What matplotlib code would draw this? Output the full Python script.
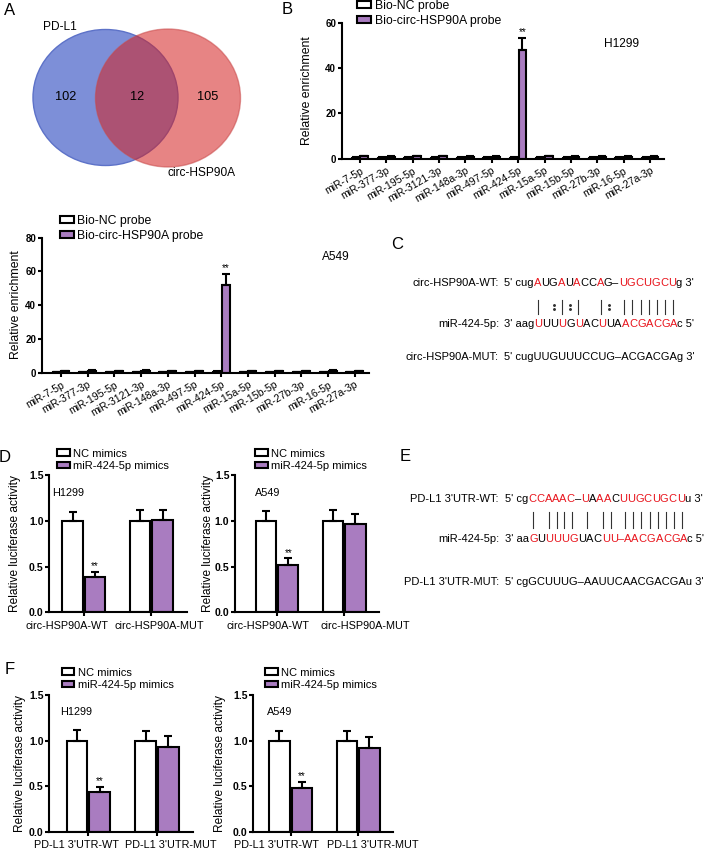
import numpy as np
import matplotlib.pyplot as plt
from matplotlib.patches import Ellipse, Patch
from matplotlib.ticker import FormatStrFormatter
from matplotlib.transforms import ScaledTranslation

W, H = 708, 856

plt.rcParams["font.family"] = ["Liberation Sans", "DejaVu Sans"]

PURPLE = "#a97cc0"
SEQ_RED = "#e8141c"

# ---------------- data ----------------
VENN_SETS = ["PD-L1", "circ-HSP90A"]
VENN_COUNTS = [102, 12, 105]

MIRNAS = ["miR-7-5p", "miR-377-3p", "miR-195-5p", "miR-3121-3p", "miR-148a-3p",
          "miR-497-5p", "miR-424-5p", "miR-15a-5p", "miR-15b-5p", "miR-27b-3p",
          "miR-16-5p", "miR-27a-3p"]
PULLDOWN_LEGEND = ["Bio-NC probe", "Bio-circ-HSP90A probe"]

H1299_NC = [0.5, 0.4, 0.4, 0.5, 0.4, 0.4, 0.4, 0.5, 0.4, 0.5, 0.4, 0.4]
H1299_NC_ERR = [0.2, 0.2, 0.2, 0.2, 0.2, 0.2, 0.2, 0.2, 0.2, 0.2, 0.2, 0.2]
H1299_PROBE = [1.0, 0.9, 1.1, 1.0, 0.9, 0.8, 47.9, 1.0, 0.9, 0.8, 0.9, 0.9]
H1299_PROBE_ERR = [0.3, 0.3, 0.3, 0.3, 0.3, 0.3, 5.5, 0.3, 0.3, 0.3, 0.3, 0.3]
H1299_SIG = ["", "", "", "", "", "", "**", "", "", "", "", ""]

A549_NC = [0.5, 0.5, 0.4, 0.5, 0.5, 0.4, 0.6, 0.5, 0.4, 0.5, 0.4, 0.4]
A549_NC_ERR = [0.2, 0.2, 0.2, 0.2, 0.2, 0.2, 0.2, 0.2, 0.2, 0.2, 0.2, 0.2]
A549_PROBE = [1.0, 1.1, 1.0, 1.1, 1.0, 0.9, 52.0, 1.0, 1.0, 1.0, 1.1, 0.8]
A549_PROBE_ERR = [0.3, 0.3, 0.3, 0.3, 0.3, 0.3, 6.4, 0.3, 0.3, 0.3, 0.3, 0.3]
A549_SIG = ["", "", "", "", "", "", "**", "", "", "", "", ""]

LUC_LEGEND = ["NC mimics", "miR-424-5p mimics"]

D_GROUPS = ["circ-HSP90A-WT", "circ-HSP90A-MUT"]
D_H1299_NC = [1.0, 1.0]
D_H1299_NC_ERR = [0.10, 0.12]
D_H1299_MIM = [0.39, 1.01]
D_H1299_MIM_ERR = [0.05, 0.11]
D_A549_NC = [1.0, 1.0]
D_A549_NC_ERR = [0.11, 0.12]
D_A549_MIM = [0.52, 0.97]
D_A549_MIM_ERR = [0.07, 0.10]

F_GROUPS = ["PD-L1 3'UTR-WT", "PD-L1 3'UTR-MUT"]
F_H1299_NC = [1.0, 1.0]
F_H1299_NC_ERR = [0.12, 0.11]
F_H1299_MIM = [0.44, 0.93]
F_H1299_MIM_ERR = [0.055, 0.12]
F_A549_NC = [1.0, 1.0]
F_A549_NC_ERR = [0.11, 0.11]
F_A549_MIM = [0.48, 0.92]
F_A549_MIM_ERR = [0.07, 0.12]
LUC_SIG = ["**", ""]

# sequences: (label, prefix, core, red mask, suffix)
C_ROWS = [
    ("circ-HSP90A-WT:", "5' cug", "AUGAUACCAG–UGCUGCU", "R..R.R..R..RRRRRRR", "g 3'"),
    ("miR-424-5p:", "3' aag", "UUUUGUACUUAACGACGA", "R..R.R..R..RRRRRRR", "c 5'"),
    ("circ-HSP90A-MUT:", "5' cugUUGUUUCCUG–ACGACGAg 3'", "", "", ""),
]
C_PAIRS = "| :|:|  |: |||||||"

E_ROWS = [
    ("PD-L1 3'UTR-WT:", "5' cg", "CCAAAC–UAAACUUGCUGCU", "RRRRRR.R.RR.RRRRRRRR", "u 3'"),
    ("miR-424-5p:", "3' aa", "GUUUUGUACUU–AACGACGA", "R.RRRR...RRRRRRRRRRR", "c 5'"),
    ("PD-L1 3'UTR-MUT:", "5' cgGCUUUG–AAUUCAACGACGAu 3'", "", "", ""),
]
E_PAIRS = "| |||| | || ||||||||"

# ---------------- figure ----------------
fig = plt.figure(figsize=(W / 100, H / 100), dpi=100)
bg = fig.add_axes([0, 0, 1, 1])
bg.set_xlim(0, W)
bg.set_ylim(H, 0)
bg.axis("off")


def px_rect(left, top, right, bottom):
    return [left / W, 1 - bottom / H, (right - left) / W, (bottom - top) / H]


def style_axes(ax, tick_fs):
    for side in ("top", "right"):
        ax.spines[side].set_visible(False)
    for side in ("left", "bottom"):
        ax.spines[side].set_linewidth(1.5)
    ax.tick_params(direction="out", length=3, width=1.5)
    ax.tick_params(axis="y", pad=1, labelsize=tick_fs)
    for lab in ax.get_yticklabels():
        lab.set_fontweight("bold")
    ax.set_facecolor("none")


def grouped_bars(ax, nc, nc_err, trt, trt_err, sig, off=0.165, width=0.3):
    x = np.arange(len(nc))
    ax.bar(x - off, nc, width=width, color="white", edgecolor="black",
           linewidth=1.5, zorder=2)
    ax.bar(x + off, trt, width=width, color=PURPLE, edgecolor="black",
           linewidth=1.5, zorder=2)
    for xs, ys, es in ((x - off, nc, nc_err), (x + off, trt, trt_err)):
        ax.errorbar(xs, ys, yerr=[np.zeros(len(ys)), es], fmt="none",
                    ecolor="black", elinewidth=1.5, capsize=3, capthick=1.5,
                    zorder=3)
    for xi, yi, ei, s in zip(x + off, trt, trt_err, sig):
        if s:
            ax.annotate(s, (xi, yi + ei), xytext=(0, 0.5),
                        textcoords="offset points", ha="center", va="bottom",
                        fontsize=7)
    return x


def add_legend(ax, labels, left, top, fs):
    handles = [Patch(facecolor="white", edgecolor="black", linewidth=1.5),
               Patch(facecolor=PURPLE, edgecolor="black", linewidth=1.5)]
    ax.legend(handles, labels, loc="upper left",
              bbox_to_anchor=(left / W, 1 - top / H),
              bbox_transform=fig.transFigure, frameon=False, fontsize=fs,
              borderpad=0, borderaxespad=0, handlelength=1.15,
              handleheight=0.5, handletextpad=0.3, labelspacing=0.22)


def ylabel_at(ax, text, cx, fs):
    ax.set_ylabel(text, fontsize=fs)
    ax.yaxis.label.set_verticalalignment("center")
    l, b, w, h = ax.get_position().bounds
    ax.yaxis.set_label_coords((cx / W - l) / w, 0.5)


# ---- A: Venn ----
bg.add_patch(Ellipse((105.5, 97.5), 145, 136, facecolor="#7d8fd8",
                     edgecolor="#5d72c8", linewidth=1.0))
bg.add_patch(Ellipse((168, 98), 145, 138, facecolor="#d42020", alpha=0.55,
                     edgecolor="#c84848", linewidth=1.0))
bg.text(60, 27, VENN_SETS[0], ha="center", va="center", fontsize=8.6)
bg.text(202, 173, VENN_SETS[1], ha="center", va="center", fontsize=8.6)
for cx, n in zip((66, 137, 208), VENN_COUNTS):
    bg.text(cx, 97, str(n), ha="center", va="center", fontsize=9.2)


# ---- B: pull-down ----
def pulldown_panel(rect, xlim, ymax, nc, nc_err, probe, probe_err, sig,
                   ylab_cx, leg_xy, cell, cell_xy):
    ax = fig.add_axes(rect)
    x = grouped_bars(ax, nc, nc_err, probe, probe_err, sig)
    ax.set_xlim(*xlim)
    ax.set_ylim(0, ymax)
    ax.set_yticks(np.arange(0, ymax + 1, 20))
    ax.set_xticks(x)
    ax.set_xticklabels(MIRNAS, rotation=30, ha="right", rotation_mode="anchor",
                       fontsize=7.5)
    style_axes(ax, 7)
    ax.tick_params(axis="x", pad=2)
    ylabel_at(ax, "Relative enrichment", ylab_cx, 8.8)
    add_legend(ax, PULLDOWN_LEGEND, leg_xy[0], leg_xy[1], 8.8)
    bg.text(cell_xy[0], cell_xy[1], cell, ha="center", va="center", fontsize=8.6)
    return ax


pulldown_panel(px_rect(341.7, 22.7, 664, 158.7), (-0.69, 11.53), 60,
               H1299_NC, H1299_NC_ERR, H1299_PROBE, H1299_PROBE_ERR, H1299_SIG,
               306.7, (357, 0), "H1299", (621.5, 44))
pulldown_panel(px_rect(41.7, 237.5, 369, 372.7), (-0.72, 11.53), 80,
               A549_NC, A549_NC_ERR, A549_PROBE, A549_PROBE_ERR, A549_SIG,
               15.8, (59.5, 215), "A549", (336, 256.7))


# ---- D / F: luciferase ----
def luc_panel(rect, xlim, nc, nc_err, mim, mim_err, groups, label_shift,
              ylab_cx, leg_xy, cell, cell_xy):
    ax = fig.add_axes(rect)
    x = grouped_bars(ax, nc, nc_err, mim, mim_err, LUC_SIG)
    ax.set_xlim(*xlim)
    ax.set_ylim(0, 1.5)
    ax.set_yticks([0.0, 0.5, 1.0, 1.5])
    ax.yaxis.set_major_formatter(FormatStrFormatter("%.1f"))
    ax.set_xticks(x)
    ax.set_xticklabels(groups, fontsize=7.8)
    style_axes(ax, 7.6)
    ax.tick_params(axis="x", pad=3)
    # the group labels sit spread apart from the ticks in the original
    for lab, dx in zip(ax.get_xticklabels(), label_shift):
        lab.set_transform(lab.get_transform()
                          + ScaledTranslation(dx / 100, 0, fig.dpi_scale_trans))
    ylabel_at(ax, "Relative luciferase activity", ylab_cx, 8.6)
    add_legend(ax, LUC_LEGEND, leg_xy[0], leg_xy[1], 8.0)
    bg.text(cell_xy[0], cell_xy[1], cell, ha="center", va="center", fontsize=7.8)
    return ax


luc_panel(px_rect(49.3, 475, 186.6, 612.3), (-0.51, 1.52), D_H1299_NC,
          D_H1299_NC_ERR, D_H1299_MIM, D_H1299_MIM_ERR, D_GROUPS, (-17, 8), 15,
          (57, 448.6), "H1299", (68.5, 492.7))
luc_panel(px_rect(235, 475, 379.3, 612.3), (-0.63, 1.52), D_A549_NC,
          D_A549_NC_ERR, D_A549_MIM, D_A549_MIM_ERR, D_GROUPS, (-9, 21), 208.5,
          (255, 448.6), "A549", (268, 492.7))
luc_panel(px_rect(49.3, 695, 192.7, 831.7), (-0.57, 1.52), F_H1299_NC,
          F_H1299_NC_ERR, F_H1299_MIM, F_H1299_MIM_ERR, F_GROUPS, (-12, 14), 20,
          (61.7, 667.6), "H1299", (76.5, 711.7))
luc_panel(px_rect(253.3, 695, 392.7, 831.7), (-0.55, 1.51), F_A549_NC,
          F_A549_NC_ERR, F_A549_MIM, F_A549_MIM_ERR, F_GROUPS, (-14, 15), 220,
          (265, 667.6), "A549", (280, 711.7))


# ---- C / E: sequence alignments ----
SEQ_FS = 8.0


def seq_row(y, row, label_x, seq_x):
    label, prefix, core, mask, suffix = row
    bg.text(label_x, y, label, ha="right", va="center", fontsize=SEQ_FS)
    prev = bg.text(seq_x, y, prefix, ha="left", va="center", fontsize=SEQ_FS)
    chars = []
    for ch, m in zip(core, mask):
        prev = bg.annotate(ch, xy=(1, 0), xycoords=prev, ha="left", va="bottom",
                           fontsize=SEQ_FS,
                           color=SEQ_RED if m == "R" else "black")
        chars.append(prev)
    if suffix:
        bg.annotate(suffix, xy=(1, 0), xycoords=prev, ha="left", va="bottom",
                    fontsize=SEQ_FS)
    return chars


c_top = seq_row(283, C_ROWS[0], 499, 504)
c_bot = seq_row(324, C_ROWS[1], 499, 504)
seq_row(357, C_ROWS[2], 499, 504)
e_top = seq_row(499.3, E_ROWS[0], 499, 505)
e_bot = seq_row(539.3, E_ROWS[1], 499, 505)
seq_row(581.7, E_ROWS[2], 499, 505)

fig.canvas.draw()


def centers(texts):
    out = []
    for t in texts:
        bb = t.get_window_extent()
        out.append((bb.x0 + bb.x1) / 2)
    return np.array(out)


def draw_pairs(top, bot, pairs, y0, y1):
    xs = (centers(top) + centers(bot)) / 2
    ym = (y0 + y1) / 2
    for xc, p in zip(xs, pairs):
        if p == "|":
            bg.plot([xc, xc], [y0, y1], color="#333333", linewidth=0.8)
        elif p == ":":
            bg.plot([xc, xc], [ym - 2, ym + 2], linestyle="none", marker="o",
                    markersize=1.1, color="#333333")


draw_pairs(c_top, c_bot, C_PAIRS, 300, 314)
draw_pairs(e_top, e_bot, E_PAIRS, 511.7, 528.3)

# ---- panel letters ----
for letter, (lx, ly) in zip("ABCDEF", [(9.5, 10.5), (286.7, 9.2), (397, 244),
                                       (5, 457), (405, 456), (9.5, 669)]):
    bg.text(lx, ly, letter, ha="center", va="center", fontsize=12)

fig.savefig("out.png", dpi=100)
